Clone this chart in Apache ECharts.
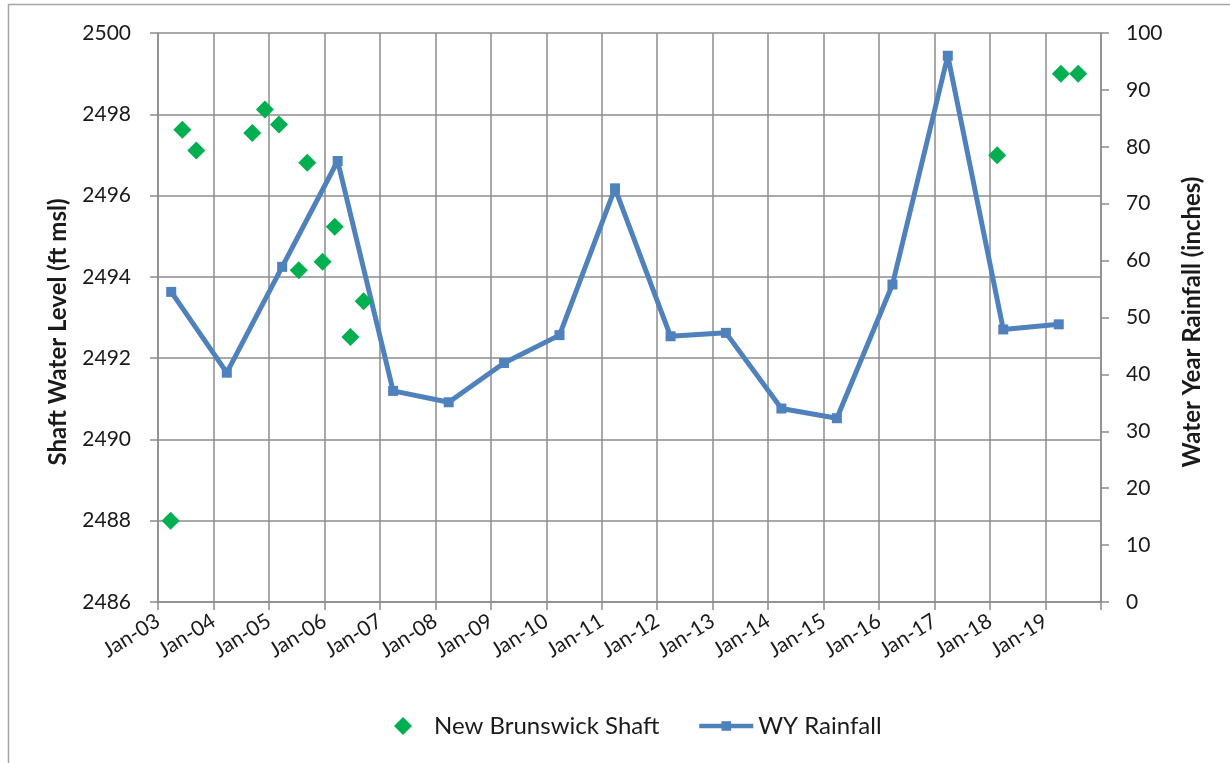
<!DOCTYPE html>
<html>
<head>
<meta charset="utf-8">
<script src="https://cdn.jsdelivr.net/npm/echarts@6/dist/echarts.min.js"></script>
<style>
html,body{margin:0;padding:0;background:#fff;}
#chart{width:1230px;height:763px;}
</style>
</head>
<body>
<div id="chart"></div>
<script>
// Data
var shaftDates = ['2003-03-25','2003-06-10','2003-09-10','2004-09-13','2004-12-05','2005-03-08',
  '2005-07-16','2005-09-10','2005-12-20','2006-03-10','2006-06-21','2006-09-16',
  '2018-02-17','2019-04-12','2019-08-04'];
var shaftLevels = [2488.0, 2497.62, 2497.11, 2497.54, 2498.12, 2497.75,
  2494.16, 2496.81, 2494.37, 2495.23, 2492.52, 2493.40,
  2496.99, 2499.0, 2499.0];

var rainDates = ['2003-03-29','2004-03-29','2005-03-29','2006-03-29','2007-03-29','2008-03-29',
  '2009-03-29','2010-03-29','2011-03-29','2012-03-29','2013-03-29','2014-03-29','2015-03-29',
  '2016-03-29','2017-03-29','2018-03-29','2019-03-29'];
var rainValues = [54.5, 40.3, 58.9, 77.5, 37.1, 35.1, 42.0, 46.9, 72.7, 46.7, 47.3, 34.0, 32.3,
  55.8, 96.0, 47.9, 48.8];

var xTickYears = [2003,2004,2005,2006,2007,2008,2009,2010,2011,2012,2013,2014,2015,2016,2017,2018,2019];
var leftTitle = 'Shaft Water Level (ft msl)';
var rightTitle = 'Water Year Rainfall (inches)';

function decYear(s){
  var p = s.split('-').map(Number);
  var y = p[0];
  var start = Date.UTC(y,0,1), end = Date.UTC(y+1,0,1);
  var d = Date.UTC(y,p[1]-1,p[2]);
  return y + (d-start)/(end-start);
}

var font = 'Lato, "Open Sans", sans-serif';
var gridColor = '#8c8c8c';
var textColor = '#1a1a1a';

var chart = echarts.init(document.getElementById('chart'));
chart.setOption({
  animation:false,
  backgroundColor:'#fff',
  textStyle:{fontFamily:font},
  graphic:[{
    type:'rect', shape:{x:8.5,y:4.5,width:1240,height:780},
    style:{fill:'none',stroke:'#a6a6a6',lineWidth:1.5}, silent:true, z:-10
  },{
    type:'text', x:58, y:332, rotation:Math.PI/2, silent:true,
    style:{text:leftTitle, fontFamily:font, fontSize:24, fontWeight:'bold', fill:textColor,
      align:'center', verticalAlign:'middle'}
  },{
    type:'text', x:1192, y:322, rotation:Math.PI/2, silent:true,
    style:{text:rightTitle, fontFamily:font, fontSize:24, fontWeight:'bold', fill:textColor,
      align:'center', verticalAlign:'middle'}
  }],
  grid:{left:158, right:129, top:33, bottom:161, containLabel:false},
  legend:[{
    top:714, left:394, padding:0, itemGap:0, itemTextGap:5,
    itemWidth:18, itemHeight:18,
    textStyle:{fontFamily:font,fontSize:24,color:textColor,padding:[0,0,0,17]},
    data:[{name:'New Brunswick Shaft', icon:'diamond', itemStyle:{color:'#00B050',opacity:1}}]
  },{
    top:714, left:697, padding:0, itemGap:0, itemTextGap:4,
    itemWidth:54, itemHeight:12,
    lineStyle:{width:4.5},
    textStyle:{fontFamily:font,fontSize:24,color:textColor},
    data:[{name:'WY Rainfall'}]
  }],
  xAxis:{
    type:'value', min:2003, max:2020, interval:1,
    axisLine:{show:true,lineStyle:{color:gridColor,width:1.5}},
    axisTick:{show:true,length:8,lineStyle:{color:gridColor,width:1.5}},
    splitLine:{show:true,lineStyle:{color:gridColor,width:1.5}},
    axisLabel:{
      rotate:32, fontSize:21, color:textColor, fontFamily:font, margin:17,
      formatter:function(v){
        var y = Math.round(v);
        if (xTickYears.indexOf(y) < 0) return '';
        return 'Jan-' + String(y).slice(2);
      }
    }
  },
  yAxis:[{
    type:'value', min:2486, max:2500, interval:2, position:'left',
    axisLine:{show:true,lineStyle:{color:gridColor,width:1.5}},
    axisTick:{show:true,length:8,lineStyle:{color:gridColor,width:1.5}},
    splitLine:{show:true,lineStyle:{color:gridColor,width:1.5}},
    axisLabel:{fontSize:21,color:textColor,margin:27,fontFamily:font,
      formatter:function(v){return String(v);}}
  },{
    type:'value', min:0, max:100, interval:10, position:'right',
    axisLine:{show:true,lineStyle:{color:gridColor,width:1.5}},
    axisTick:{show:true,length:8,lineStyle:{color:gridColor,width:1.5}},
    splitLine:{show:false},
    axisLabel:{fontSize:21,color:textColor,margin:25,fontFamily:font,
      formatter:function(v){return String(v);}}
  }],
  series:[{
    name:'New Brunswick Shaft', type:'scatter', yAxisIndex:0,
    symbol:'diamond', symbolSize:[18,18],
    itemStyle:{color:'#00B050',opacity:1},
    data:shaftDates.map(function(d,i){return [decYear(d), shaftLevels[i]];}),
    z:3
  },{
    name:'WY Rainfall', type:'line', yAxisIndex:1,
    symbol:'rect', symbolSize:10, showSymbol:true,
    lineStyle:{color:'#4F81BD',width:5},
    itemStyle:{color:'#4F81BD'},
    data:rainDates.map(function(d,i){return [decYear(d), rainValues[i]];}),
    z:2
  }]
});
</script>
</body>
</html>
